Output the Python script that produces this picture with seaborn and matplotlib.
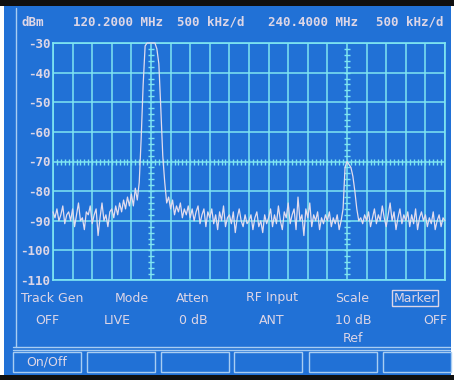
import numpy as np
import matplotlib.pyplot as plt
import seaborn as sns
from matplotlib.patches import Rectangle
from matplotlib.lines import Line2D

# Trace: one sample every 0.1 division (20 divisions)
divisions = np.round(np.arange(0, 20.01, 0.1), 1)
level_dbm = [
    -87, -89, -86, -90, -88, -85, -91, -88, -87, -90,
    -86, -92, -88, -84, -90, -89, -93, -87, -88, -85,
    -91, -88, -86, -95, -89, -84, -90, -88, -92, -87,
    -86, -89, -85, -88, -84, -87, -83, -86, -82, -85,
    -81, -85, -79, -83, -77, -62, -44, -31, -30, -30,
    -30, -30, -30, -32, -37, -52, -68, -77, -84, -82,
    -86, -83, -88, -85, -87, -84, -89, -86, -88, -85,
    -89, -86, -90, -87, -85, -91, -88, -86, -92, -87,
    -89, -86, -91, -88, -93, -87, -90, -85, -92, -89,
    -88, -91, -87, -94, -89, -86, -90, -92, -88, -91,
    -90, -88, -93, -89, -87, -92, -90, -94, -88, -91,
    -89, -86, -92, -88, -91, -85, -90, -93, -87, -89,
    -84, -91, -88, -86, -93, -82, -90, -88, -95, -86,
    -89, -84, -92, -88, -90, -87, -93, -89, -91, -88,
    -90, -87, -92, -89, -91, -88, -93, -90, -86, -72,
    -70, -71, -72, -75, -80, -86, -90, -89, -91, -88,
    -90, -87, -92, -89, -86, -91, -88, -90, -85, -89,
    -92, -88, -84, -90, -87, -93, -89, -86, -91, -88,
    -90, -87, -92, -88, -91, -86, -93, -89, -87, -90,
    -88, -92, -89, -91, -87, -93, -90, -88, -92, -89,
    -90,
]

y_ticks = [-30, -40, -50, -60, -70, -80, -90, -100, -110]
header = [("dBm", 33), ("120.2000 MHz", 118), ("500 kHz/d", 211),
          ("240.4000 MHz", 313), ("500 kHz/d", 410)]
menu_names = ["Track Gen", "Mode", "Atten", "RF Input", "Scale", "Marker"]
menu_values = ["OFF", "LIVE", "0 dB", "ANT", "10 dB", "OFF"]
softkeys = ["On/Off", "", "", "", "", ""]

BLUE = "#2171d6"
GRID = "#7fe6f2"
TEXT = "#ddd6e6"
TRACE = "#e2dcee"
EDGE = "#a9cdf2"
W, H = 454, 380

sns.set_style("dark")
plt.rcParams["font.family"] = ["DejaVu Sans"]

fig = plt.figure(figsize=(W / 100, H / 100), dpi=100, facecolor="white")


def px(x, y):
    return x / W, 1 - y / H


# screen background
fig.patches.append(Rectangle(px(4, 377), 447 / W, 372 / H, transform=fig.transFigure,
                             facecolor=BLUE, edgecolor="none", zorder=-2))
fig.patches.append(Rectangle(px(0, 6), 1, 6 / H, transform=fig.transFigure,
                             facecolor="#101010", edgecolor="none", zorder=-2))
fig.patches.append(Rectangle(px(0, 380), 1, 5 / H, transform=fig.transFigure,
                             facecolor="#101010", edgecolor="none", zorder=-2))
fig.lines.append(Line2D([16 / W, 16 / W], [1 - 8 / H, 1 - 347 / H],
                        transform=fig.transFigure, color=EDGE, lw=1, zorder=-1))
for yy in (347, 350):
    fig.lines.append(Line2D([13 / W, 450 / W], [1 - yy / H] * 2,
                            transform=fig.transFigure, color=EDGE, lw=1,
                            zorder=-1))

ax = fig.add_axes([53 / W, 1 - 280 / H, 392 / W, 237 / H], zorder=1)
ax.set_facecolor(BLUE)
sns.lineplot(x=divisions, y=level_dbm, ax=ax, color=TRACE, lw=0.9, zorder=5)
ax.lines[-1].set_clip_on(False)

ax.set_xlim(0, 20)
ax.set_ylim(-110, -30)
ax.set_xticks(range(21))
ax.set_xticklabels([])
ax.set_yticks(y_ticks)
ax.set_yticklabels([str(v) for v in y_ticks], color=TEXT, fontsize=9,
                   fontweight="bold", family="DejaVu Sans Mono")
ax.tick_params(length=0, pad=2)
ax.grid(True, color=GRID, lw=1.1)
ax.set_axisbelow(True)
for s in ax.spines.values():
    s.set_color(GRID)
    s.set_linewidth(1.2)
ax.set_xlabel("")
ax.set_ylabel("")

# graticule centre markings
ax.plot(np.arange(0.2, 20, 0.2), [-70] * 99, ls="none", marker="|", ms=5,
        color=GRID, mew=1, zorder=2)
for cx in (5, 15):
    ax.plot([cx] * 39, np.arange(-108, -30, 2), ls="none", marker="_", ms=5,
            color=GRID, mew=1, zorder=2)

# header
for label, x in header:
    fig.text(*px(x, 22), label, color=TEXT, fontsize=9, fontweight="bold",
             family="DejaVu Sans Mono", ha="center", va="center")

# menu rows
menu_x = [52, 132, 193, 272, 352, 415]
value_x = [47, 117, 193, 272, 353, 435]
for name, value, mx, vx in zip(menu_names, menu_values, menu_x, value_x):
    t = fig.text(*px(mx, 298), name, color=TEXT, fontsize=9, ha="center",
                 va="center")
    if name == "Marker":
        t.set_bbox(dict(facecolor="none", edgecolor=TEXT, pad=1.2, lw=1))
    fig.text(*px(vx, 320), value, color=TEXT, fontsize=9, ha="center",
             va="center")
fig.text(*px(353, 338), "Ref", color=TEXT, fontsize=9, ha="center", va="center")

# soft keys
box_x = [13, 87, 161, 234, 309, 383]
for label, bx in zip(softkeys, box_x):
    fig.patches.append(Rectangle(px(bx, 372), 68 / W, 20 / H,
                                 transform=fig.transFigure, facecolor="none",
                                 edgecolor=EDGE, lw=1))
    if label:
        fig.text(*px(bx + 34, 362), label, color=TEXT, fontsize=9,
                 ha="center", va="center")

fig.savefig("out.png", dpi=100, facecolor=fig.get_facecolor())
